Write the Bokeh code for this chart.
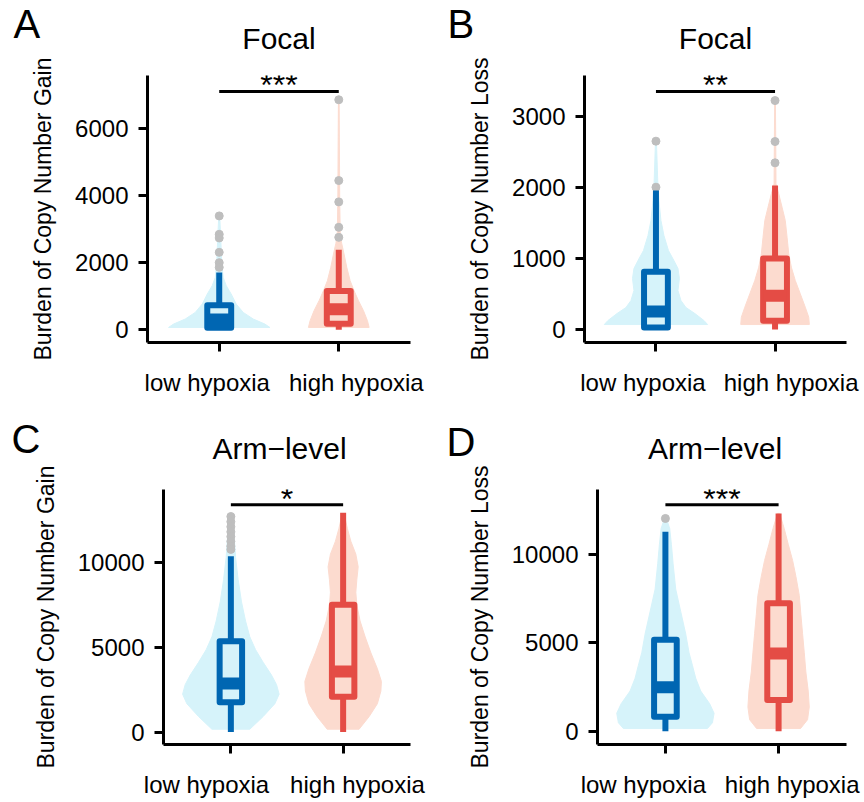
from bokeh.plotting import figure
from bokeh.models import Range1d, FixedTicker, Label
from bokeh.layouts import column, row
from bokeh.embed import file_html
from bokeh.resources import INLINE
from bokeh.core.properties import value

FONT = "Liberation Sans"
BLUE, RED = "#0066B2", "#E44C45"
LBLUE, LRED = "#D6F3FA", "#FCDBCF"
GREY = "#BEBEBE"

groups = ["low hypoxia", "high hypoxia"]
group_x = [1, 2]

# ---------------- Panel A : Focal gain ----------------
a_low_vy = [69, 170, 319, 516, 767, 1066, 1313, 1561, 2000, 2700, 3394]
a_low_vw = [0.424, 0.382, 0.285, 0.201, 0.142, 0.100, 0.059, 0.033, 0.021, 0.013, 0.004]
a_high_vy = [69, 269, 567, 866, 1164, 1463, 1860, 2260, 2567, 2800, 3800, 4450, 6857]
a_high_vw = [0.254, 0.240, 0.207, 0.165, 0.128, 0.095, 0.067, 0.044, 0.025, 0.013, 0.008, 0.007, 0.003]
a_low_box = [0, 60, 307, 734, 1710]      # lo, q1, median, q3, hi
a_high_box = [0, 179, 612, 1155, 2388]
a_low_out = [3394, 2845, 2737, 2307, 2000, 1860]
a_high_out = [6857, 4448, 3812, 3054, 2755]
a_sig_y, a_sig = 7104, "***"
a_yticks = [0, 2000, 4000, 6000]

# ---------------- Panel B : Focal loss ----------------
b_low_vy = [70, 127, 225, 310, 408, 549, 718, 859, 971, 1112, 1324, 1535, 1816, 2000, 2650]
b_low_vw = [0.434, 0.403, 0.327, 0.252, 0.210, 0.185, 0.197, 0.185, 0.151, 0.105, 0.067, 0.042, 0.025, 0.017, 0.004]
b_high_vy = [70, 173, 314, 503, 690, 877, 1066, 1300, 1535, 1722, 1911, 2052, 2650, 3224]
b_high_vw = [0.288, 0.283, 0.254, 0.212, 0.170, 0.137, 0.115, 0.101, 0.086, 0.059, 0.031, 0.008, 0.006, 0.003]
b_low_box = [0, 28, 255, 812, 1957]
b_high_box = [0, 125, 475, 1000, 2028]
b_low_out = [2652, 2004]
b_high_out = [3224, 2647, 2347]
b_sig_y, b_sig = 3352, "**"
b_yticks = [0, 1000, 2000, 3000]

# ---------------- Panel C : Arm-level gain ----------------
c_low_vy = [169, 916, 1669, 2230, 2792, 3354, 4101, 4848, 5601, 6534, 7657, 8972, 10281, 11781, 12809]
c_low_vw = [0.169, 0.288, 0.392, 0.430, 0.407, 0.362, 0.288, 0.220, 0.169, 0.131, 0.095, 0.065, 0.042, 0.027, 0.012]
c_high_vy = [169, 916, 1669, 2416, 2978, 3725, 4663, 5601, 6534, 7472, 8219, 8972, 9719, 10466, 11218, 11966, 12809]
c_high_vw = [0.142, 0.232, 0.305, 0.336, 0.341, 0.305, 0.247, 0.196, 0.151, 0.122, 0.113, 0.122, 0.134, 0.113, 0.069, 0.038, 0.009]
c_low_box = [0, 1758, 2865, 5337, 10337]
c_high_box = [0, 2079, 3567, 7489, 12904]
c_low_out = [12680, 12377, 12079, 11780, 11499, 11218, 10938, 10747]
c_high_out = []
c_sig_y, c_sig = 13371, "*"
c_yticks = [0, 5000, 10000]

# ---------------- Panel D : Arm-level loss ----------------
d_low_vy = [146, 470, 1011, 1551, 2270, 2989, 3713, 4432, 5513, 6772, 8037, 9475, 10556, 11459, 12037]
d_low_vw = [0.371, 0.415, 0.430, 0.391, 0.312, 0.268, 0.239, 0.209, 0.179, 0.135, 0.091, 0.068, 0.053, 0.038, 0.009]
d_high_vy = [146, 649, 1367, 2270, 3351, 4432, 5513, 6594, 7675, 8756, 9659, 10556, 11459, 12324]
d_high_vw = [0.194, 0.256, 0.271, 0.262, 0.241, 0.227, 0.212, 0.197, 0.183, 0.153, 0.124, 0.086, 0.050, 0.009]
d_low_box = [0, 811, 2486, 5173, 11280]
d_high_box = [0, 1767, 4389, 7243, 12324]
d_low_out = [12037]
d_high_out = []
d_sig_y, d_sig = 12810, "***"
d_yticks = [0, 5000, 10000]

BOX_HALF = 0.1
W = 432


def draw_group(p, c, vy, vw, box, outl, dark, light):
    xs = [c - w for w in vw] + [c + w for w in reversed(vw)]
    ys = list(vy) + list(reversed(vy))
    p.patch(xs, ys, fill_color=light, line_color=light, line_width=1)
    if outl:
        p.scatter([c] * len(outl), outl, size=8, color=GREY)
    lo, q1, med, q3, hi = box
    p.segment(x0=[c, c], y0=[q3, lo], x1=[c, c], y1=[hi, q1],
              line_width=6, line_color=dark, line_cap="butt")
    p.quad(left=[c - BOX_HALF], right=[c + BOX_HALF], bottom=[q1], top=[q3],
           fill_color=light, line_color=dark, line_width=6, line_join="round")
    p.segment(x0=[c - BOX_HALF], y0=[med], x1=[c + BOX_HALF], y1=[med],
              line_width=12, line_color=dark, line_cap="butt")


def make_header(height, items):
    """Full-width strip carrying the panel letters and the panel titles."""
    h = figure(width=2 * W, height=height, output_backend="svg", toolbar_location=None,
               x_axis_type=None, y_axis_type=None, min_border=0,
               x_range=Range1d(0, 1), y_range=Range1d(0, 1))
    h.outline_line_color = None
    h.background_fill_color = "white"
    h.border_fill_color = "white"
    for text, x, y, size, align in items:
        h.add_layout(Label(x=x, y=y, x_units="screen", y_units="screen",
                           text=text, text_font=FONT, text_font_size=size,
                           text_color="black", text_align=align,
                           text_baseline="alphabetic"))
    return h


def make_panel(ylabel, yr, yticks, low, high, sig_y, sig, height, borders, label_pos):
    bl, br, bt, bb = borders
    p = figure(width=W, height=height, output_backend="svg", toolbar_location=None,
               x_range=Range1d(0.4, 2.6), y_range=Range1d(*yr),
               min_border_left=bl, min_border_right=br,
               min_border_top=bt, min_border_bottom=bb)
    p.xgrid.visible = False
    p.ygrid.visible = False
    p.outline_line_color = None
    p.background_fill_color = "white"
    p.border_fill_color = "white"

    draw_group(p, group_x[0], *low, BLUE, LBLUE)
    draw_group(p, group_x[1], *high, RED, LRED)

    p.segment(x0=[group_x[0]], y0=[sig_y], x1=[group_x[1]], y1=[sig_y],
              line_width=3, line_color="black")
    p.text(x=[(group_x[0] + group_x[1]) / 2], y=[sig_y], text=[sig],
           text_align="center", text_baseline="alphabetic", y_offset=-6,
           text_font=value(FONT), text_font_size="32px", text_color="black")

    for ax in p.axis:
        ax.axis_line_width = 3
        ax.axis_line_color = "black"
        ax.major_tick_line_width = 3
        ax.major_tick_line_color = "black"
        ax.major_tick_out = 9
        ax.major_tick_in = 0
        ax.minor_tick_out = 0
        ax.minor_tick_in = 0
        ax.major_label_text_font = FONT
        ax.major_label_text_font_size = "24px"
        ax.major_label_text_color = "black"

    # category labels sit as major ticks, tick marks at the categories as minor ticks
    xa = p.xaxis[0]
    xa.ticker = FixedTicker(ticks=label_pos, minor_ticks=group_x)
    xa.major_label_overrides = {label_pos[0]: groups[0], label_pos[1]: groups[1]}
    xa.major_tick_out = 0
    xa.major_tick_line_color = None
    xa.minor_tick_out = 9
    xa.minor_tick_line_width = 3
    xa.minor_tick_line_color = "black"
    xa.major_label_standoff = 17

    p.yaxis.ticker = FixedTicker(ticks=yticks)
    p.yaxis.major_label_standoff = 10
    p.yaxis.axis_label = ylabel
    p.yaxis.axis_label_text_font = FONT
    p.yaxis.axis_label_text_font_size = "23px"
    p.yaxis.axis_label_text_font_style = "normal"
    p.yaxis.axis_label_text_color = "black"
    p.yaxis.axis_label_standoff = 16
    return p


hdr1 = make_header(56, [("A", 13, 33, "40px", "left"),
                        ("B", 447, 33, "40px", "left"),
                        ("Focal", 278.5, 18.5, "30px", "center"),
                        ("Focal", 715, 18.5, "30px", "center")])
hdr2 = make_header(66, [("C", 11, 27.8, "40px", "left"),
                        ("D", 446, 24.8, "40px", "left"),
                        ("Arm\u2212level", 279, 18.5, "30px", "center"),
                        ("Arm\u2212level", 714.5, 18.5, "30px", "center")])

pA = make_panel("Burden of Copy Number Gain", (-380, 7580), a_yticks,
                (a_low_vy, a_low_vw, a_low_box, a_low_out),
                (a_high_vy, a_high_vw, a_high_box, a_high_out),
                a_sig_y, a_sig, 344, (147, 22, 19, 58), [0.9, 2.147])
pB = make_panel("Burden of Copy Number Loss", (-183, 3577), b_yticks,
                (b_low_vy, b_low_vw, b_low_box, b_low_out),
                (b_high_vy, b_high_vw, b_high_box, b_high_out),
                b_sig_y, b_sig, 344, (152, 18, 19, 58), [0.891, 2.135])
pC = make_panel("Burden of Copy Number Gain", (-730, 14270), c_yticks,
                (c_low_vy, c_low_vw, c_low_box, c_low_out),
                (c_high_vy, c_high_vw, c_high_box, c_high_out),
                c_sig_y, c_sig, 334, (163, 22, 23, 44), [0.783, 2.128])
pD = make_panel("Burden of Copy Number Loss", (-757, 13676), d_yticks,
                (d_low_vy, d_low_vw, d_low_box, d_low_out),
                (d_high_vy, d_high_vw, d_high_box, d_high_out),
                d_sig_y, d_sig, 334, (165, 18, 23, 44), [0.805, 2.12])

layout = column(row(hdr1), row(pA, pB), row(hdr2), row(pC, pD))
open("out.html", "w").write(file_html(layout, INLINE))
